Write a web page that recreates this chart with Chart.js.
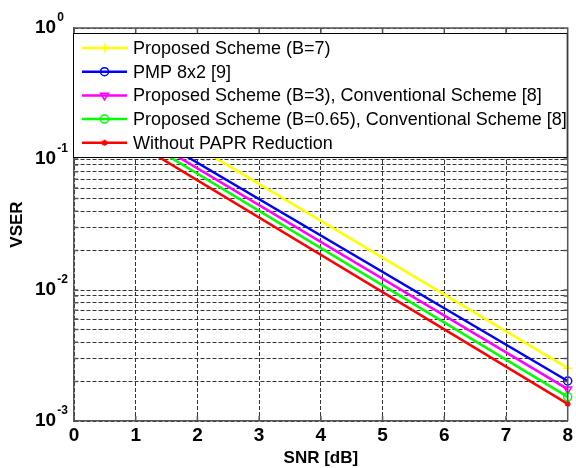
<!DOCTYPE html>
<html>
<head>
<meta charset="utf-8">
<script src="https://cdn.jsdelivr.net/npm/chart.js@4"></script>
<style>
  body { margin: 0; background: #fff; }
  canvas { display: block; }
</style>
</head>
<body>
<canvas id="chart" width="576" height="468"></canvas>
<script>
// SNR points (dB) - the x=0 ends are hidden under the legend
const snr = [0, 8];

// VSER values
const proposedB7   = [0.449, 2.53e-3];
const pmp8x2       = [0.336, 2.02e-3];
const proposedB3   = [0.309, 1.75e-3];
const proposedB065 = [0.286, 1.53e-3];
const withoutPapr  = [0.255, 1.35e-3];

const seriesLabels = [
    'Proposed Scheme (B=7)',
    'PMP 8x2 [9]',
    'Proposed Scheme (B=3), Conventional Scheme [8]',
    'Proposed Scheme (B=0.65), Conventional Scheme [8]',
    'Without PAPR Reduction'
];

const xTicks = [0, 1, 2, 3, 4, 5, 6, 7, 8];
const yDecades = [1e-3, 1e-2, 1e-1, 1];
const yExponents = ['-3', '-2', '-1', '0'];

const FONT = '"Liberation Sans", Arial, Helvetica, sans-serif';

function toPoints(ys) {
    return snr.map((x, i) => ({ x: x, y: ys[i] }));
}

// minor + major log ticks for the dotted grid
function logTicks() {
    const out = [];
    for (let d = 0; d < yDecades.length - 1; d++) {
        for (let m = 1; m < 10; m++) out.push({ value: yDecades[d] * m, major: m === 1 });
    }
    out.push({ value: yDecades[yDecades.length - 1], major: true });
    return out;
}

// small marker drawing for the legend
function drawMarker(ctx, style, x, y, r, color, rotation) {
    ctx.save();
    ctx.strokeStyle = color;
    ctx.lineWidth = 1.5;
    ctx.beginPath();
    if (style === 'cross') {
        ctx.moveTo(x - r, y); ctx.lineTo(x + r, y);
        ctx.moveTo(x, y - r); ctx.lineTo(x, y + r);
    } else if (style === 'circle') {
        ctx.arc(x, y, r, 0, Math.PI * 2);
    } else if (style === 'triangle') {
        const s = rotation === 180 ? -1 : 1;
        ctx.moveTo(x, y - s * r);
        ctx.lineTo(x + r * 0.87, y + s * r * 0.5);
        ctx.lineTo(x - r * 0.87, y + s * r * 0.5);
        ctx.closePath();
    } else if (style === 'star') {
        ctx.moveTo(x - r, y); ctx.lineTo(x + r, y);
        ctx.moveTo(x, y - r); ctx.lineTo(x, y + r);
        const k = r * 0.7;
        ctx.moveTo(x - k, y - k); ctx.lineTo(x + k, y + k);
        ctx.moveTo(x - k, y + k); ctx.lineTo(x + k, y - k);
    }
    ctx.stroke();
    ctx.restore();
}

const framePlugin = {
    id: 'frame',
    afterDatasetsDraw(chart) {
        const { ctx, chartArea: a, scales } = chart;
        ctx.save();

        // top and right axis lines, inward ticks
        ctx.strokeStyle = '#555';
        ctx.lineWidth = 1.5;
        ctx.beginPath();
        ctx.moveTo(a.left, a.top); ctx.lineTo(a.right, a.top); ctx.lineTo(a.right, a.bottom);
        xTicks.forEach(v => {
            const px = scales.x.getPixelForValue(v);
            ctx.moveTo(px, a.top); ctx.lineTo(px, a.top + 5);
            ctx.moveTo(px, a.bottom); ctx.lineTo(px, a.bottom - 5);
        });
        logTicks().forEach(t => {
            const py = scales.y.getPixelForValue(t.value);
            ctx.moveTo(a.left, py); ctx.lineTo(a.left + 4, py);
            ctx.moveTo(a.right, py); ctx.lineTo(a.right - 4, py);
        });
        ctx.stroke();

        // legend box inside the plot
        const lx = a.left - 1, ly = a.top + 5;
        const lw = a.right - lx, lh = 125;
        ctx.fillStyle = '#fff';
        ctx.fillRect(lx, ly, lw, lh);
        ctx.strokeStyle = '#000';
        ctx.lineWidth = 1;
        ctx.strokeRect(lx + 0.5, ly + 0.5, lw - 1, lh - 1);

        ctx.font = '18px ' + FONT;
        ctx.textBaseline = 'middle';
        ctx.textAlign = 'left';
        chart.data.datasets.forEach((ds, i) => {
            const y = ly + 15 + i * 23.7;
            ctx.strokeStyle = ds.borderColor;
            ctx.lineWidth = 2.5;
            ctx.beginPath();
            ctx.moveTo(a.left + 8, y); ctx.lineTo(a.left + 53, y);
            ctx.stroke();
            drawMarker(ctx, ds.pointStyle, a.left + 30.5, y, ds.pointRadius, ds.borderColor, ds.pointRotation);
            ctx.fillStyle = '#000';
            ctx.fillText(ds.label, a.left + 59, y + 1);
        });
        ctx.restore();
    },
    afterDraw(chart) {
        const { ctx, chartArea: a, scales } = chart;
        ctx.save();
        ctx.fillStyle = '#000';

        // y tick labels as 10^n
        ctx.textBaseline = 'middle';
        ctx.textAlign = 'left';
        yDecades.forEach((v, i) => {
            const py = scales.y.getPixelForValue(v);
            ctx.font = 'bold 19px ' + FONT;
            ctx.fillText('10', 35, py);
            const w = ctx.measureText('10').width;
            ctx.font = 'bold 12px ' + FONT;
            ctx.fillText(yExponents[i], 35 + w + 1, py - 10);
        });

        // axis titles
        ctx.font = 'bold 17px ' + FONT;
        ctx.textAlign = 'center';
        ctx.fillText('SNR [dB]', (a.left + a.right) / 2, 458);
        ctx.translate(17, (a.top + a.bottom) / 2);
        ctx.rotate(-Math.PI / 2);
        ctx.fillText('VSER', 0, 0);
        ctx.restore();
    }
};

const series = [
    { data: proposedB7,   color: '#ffff00', style: 'cross',    r: 4.5, rot: 0 },
    { data: pmp8x2,       color: '#0000ff', style: 'circle',   r: 4,   rot: 0 },
    { data: proposedB3,   color: '#ff00ff', style: 'triangle', r: 4.5, rot: 180 },
    { data: proposedB065, color: '#00ff00', style: 'circle',   r: 4,   rot: 0 },
    { data: withoutPapr,  color: '#ff0000', style: 'star',     r: 3,   rot: 0 }
];

new Chart(document.getElementById('chart'), {
    type: 'line',
    data: {
        datasets: series.map((s, i) => ({
            label: seriesLabels[i],
            data: toPoints(s.data),
            borderColor: s.color,
            backgroundColor: 'rgba(0,0,0,0)',
            borderWidth: 2.5,
            pointStyle: s.style,
            pointRadius: s.r,
            pointRotation: s.rot,
            pointBorderWidth: 1.5,
            pointBackgroundColor: 'rgba(0,0,0,0)',
            tension: 0,
            // let the end markers at x=8 spill over the right axis
            clip: { left: 0, top: 0, right: 8, bottom: 8 },
            order: series.length - i
        }))
    },
    options: {
        responsive: false,
        animation: false,
        layout: { padding: { top: 28, right: 5, left: 0, bottom: 0 } },
        plugins: {
            legend: { display: false },
            tooltip: { enabled: false }
        },
        scales: {
            x: {
                type: 'linear',
                min: 0,
                max: 8,
                afterBuildTicks: s => { s.ticks = xTicks.map(v => ({ value: v })); },
                afterFit: s => { s.height = 47; },
                ticks: {
                    color: '#000',
                    padding: 3,
                    font: { family: FONT, size: 19, weight: 'bold' }
                },
                grid: { color: '#333', lineWidth: 1, drawTicks: false },
                border: { color: '#555', width: 1.5, dash: [4, 2] }
            },
            y: {
                type: 'logarithmic',
                min: 1e-3,
                max: 1,
                afterBuildTicks: s => { s.ticks = logTicks(); },
                afterFit: s => { s.width = 74; },
                ticks: { display: false },
                grid: { color: '#333', lineWidth: 1, drawTicks: false },
                border: { color: '#555', width: 1.5, dash: [4, 2] }
            }
        }
    },
    plugins: [framePlugin]
});
</script>
</body>
</html>
